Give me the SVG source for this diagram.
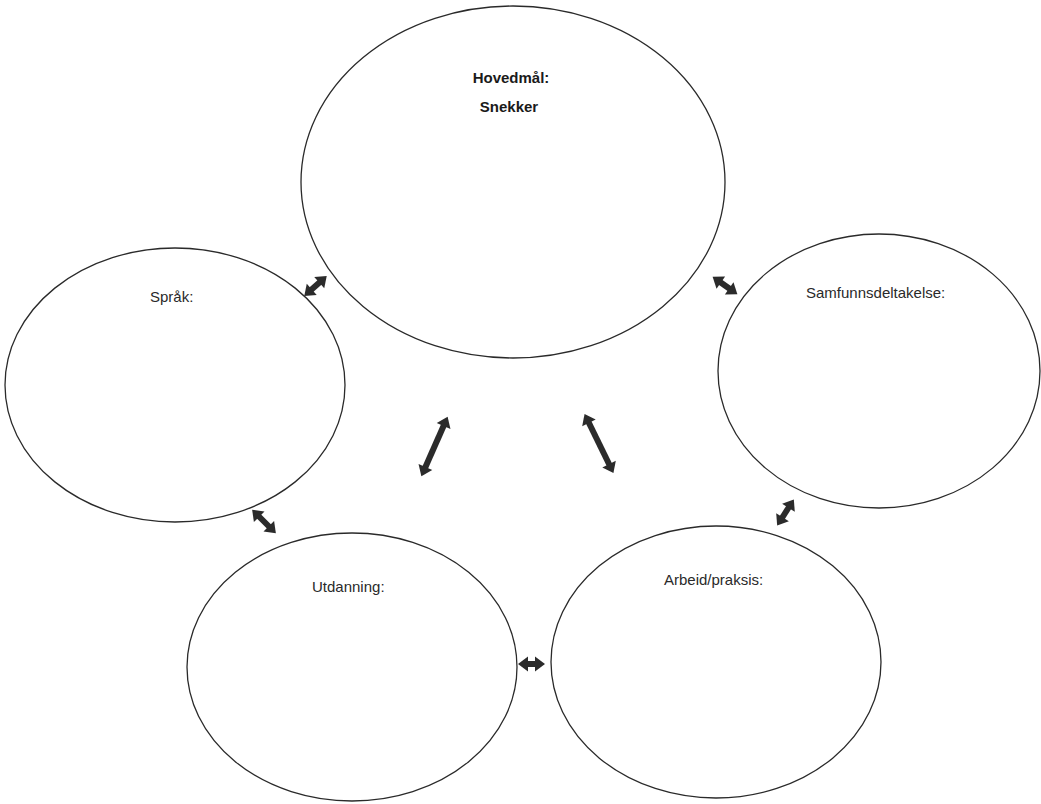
<svg xmlns="http://www.w3.org/2000/svg" width="1041" height="804" viewBox="0 0 1041 804">
<style>
.node ellipse{fill:none;stroke:#2a2a2a;stroke-width:1.3}
.lbl{font-family:"Liberation Sans",Arial,sans-serif;font-size:15px;fill:#2a2a2a}
.title{font-family:"Liberation Sans",Arial,sans-serif;font-size:15px;font-weight:bold;fill:#1a1a1a;text-anchor:middle}
.conn line{stroke:#2b2b2b;stroke-width:6;marker-start:url(#ah);marker-end:url(#ah)}
</style>
<defs>
<marker id="ah" markerUnits="userSpaceOnUse" markerWidth="12" markerHeight="16" viewBox="0 0 12 16" refX="1" refY="8" orient="auto-start-reverse" overflow="visible">
<path d="M0,0.5 L10,8 L0,15.5 z" fill="#2b2b2b"/>
</marker>
</defs>
<rect width="1041" height="804" fill="#ffffff"/>
<g id="hovedmal" class="node">
<ellipse cx="513" cy="182" rx="212" ry="176"/>
<text class="title" x="511" y="83">Hovedmål:</text>
<text class="title" x="509" y="112">Snekker</text>
</g>
<g id="sprak" class="node">
<ellipse cx="175" cy="385" rx="170" ry="137"/>
<text class="lbl" x="150" y="302">Språk:</text>
</g>
<g id="samfunnsdeltakelse" class="node">
<ellipse cx="879" cy="371" rx="161" ry="137"/>
<text class="lbl" x="806" y="298">Samfunnsdeltakelse:</text>
</g>
<g id="utdanning" class="node">
<ellipse cx="352" cy="667" rx="165" ry="134"/>
<text class="lbl" x="312" y="592">Utdanning:</text>
</g>
<g id="arbeid" class="node">
<ellipse cx="716" cy="662" rx="165" ry="136"/>
<text class="lbl" x="664" y="585">Arbeid/praksis:</text>
</g>
<g id="connectors" class="conn">
<line x1="311" y1="290" x2="320" y2="282"/>
<line x1="720" y1="282" x2="730" y2="289"/>
<line x1="444" y1="425" x2="425" y2="468"/>
<line x1="588.5" y1="422" x2="609.5" y2="465"/>
<line x1="258.5" y1="516" x2="269.5" y2="527"/>
<line x1="789" y1="507" x2="782" y2="518"/>
<line x1="527" y1="664" x2="536" y2="664"/>
</g>
</svg>
